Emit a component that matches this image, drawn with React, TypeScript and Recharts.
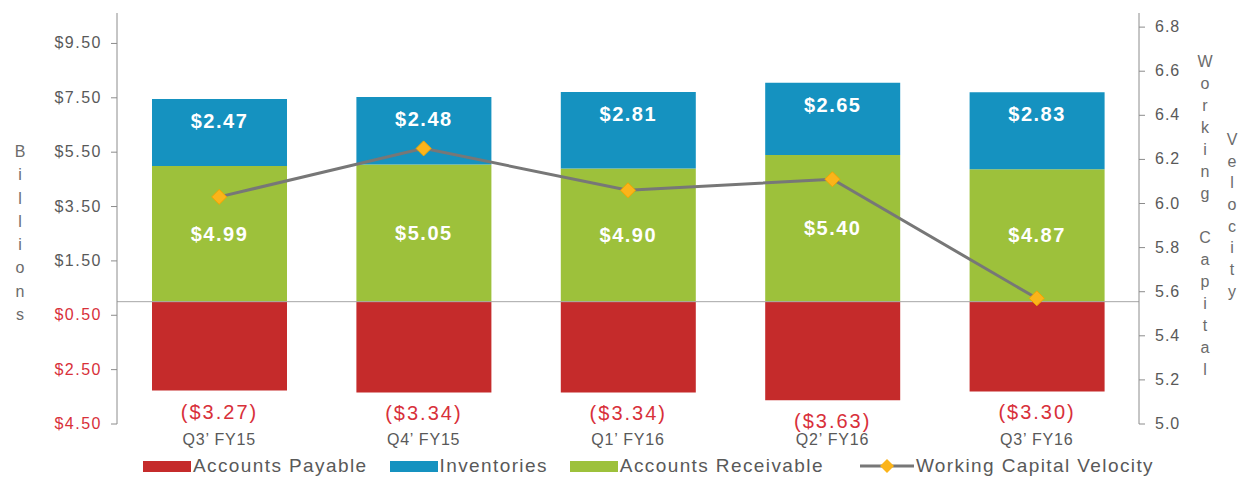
import {
	Bar,
	ComposedChart,
	LabelList,
	Line,
	ReferenceLine,
	XAxis,
	YAxis,
} from "recharts";

const quarters = ["Q3’ FY15", "Q4’ FY15", "Q1’ FY16", "Q2’ FY16", "Q3’ FY16"];
const accountsPayable = [-3.27, -3.34, -3.34, -3.63, -3.3];
const inventories = [2.47, 2.48, 2.81, 2.65, 2.83];
const accountsReceivable = [4.99, 5.05, 4.9, 5.4, 4.87];
const velocity = [6.03, 6.25, 6.06, 6.11, 5.57];

const billionTicks = [-4.5, -2.5, -0.5, 1.5, 3.5, 5.5, 7.5, 9.5];
const velocityTicks = [5.0, 5.2, 5.4, 5.6, 5.8, 6.0, 6.2, 6.4, 6.6, 6.8];

const RED = "#c52b2b";
const BLUE = "#1592c0";
const GREEN = "#9dc13b";
const LINE_GRAY = "#777777";
const DIAMOND = "#fbb41a";
const TEXT_GRAY = "#595959";
const LABEL_RED = "#d8303a";
const AXIS_GRAY = "#8c8c8c";

const data = quarters.map((q, i) => ({
	name: q,
	payable: accountsPayable[i],
	receivable: accountsReceivable[i],
	inventories: inventories[i],
	velocity: velocity[i],
}));

const legendItems = [
	{ name: "Accounts Payable", color: RED, line: false },
	{ name: "Inventories", color: BLUE, line: false },
	{ name: "Accounts Receivable", color: GREEN, line: false },
	{ name: "Working Capital Velocity", color: LINE_GRAY, line: true },
];

const money = (v: number) => `$${Math.abs(v).toFixed(2)}`;

function LeftTick({ x, y, payload }: any) {
	const v = payload.value as number;
	return (
		<text
			x={x}
			y={y}
			dy={5}
			textAnchor="end"
			fontSize={16}
			letterSpacing={1.5}
			fill={v < 0 ? LABEL_RED : TEXT_GRAY}
		>
			{money(v)}
		</text>
	);
}

function RightTick({ x, y, payload }: any) {
	return (
		<text x={x} y={y} dy={5} textAnchor="start" fontSize={16} letterSpacing={1} fill={TEXT_GRAY}>
			{(payload.value as number).toFixed(1)}
		</text>
	);
}

function CategoryTick({ x, y, payload }: any) {
	return (
		<text x={x} y={y} dy={13} textAnchor="middle" fontSize={16} letterSpacing={0.8} fill={TEXT_GRAY}>
			{payload.value}
		</text>
	);
}

function InvLabel({ x, y, width, value }: any) {
	return (
		<text
			x={x + width / 2}
			y={y + 22}
			dominantBaseline="central"
			textAnchor="middle"
			fill="#fff"
			fontWeight="bold"
			fontSize={20}
			letterSpacing={1.5}
		>
			{money(value)}
		</text>
	);
}

function ArLabel({ x, y, width, height, value }: any) {
	return (
		<text
			x={x + width / 2}
			y={y + height / 2}
			dominantBaseline="central"
			textAnchor="middle"
			fill="#fff"
			fontWeight="bold"
			fontSize={20}
			letterSpacing={1.5}
		>
			{money(value)}
		</text>
	);
}

function ApLabel({ x, y, width, height, value }: any) {
	const bottom = Math.max(y, y + height);
	return (
		<text
			x={x + width / 2}
			y={bottom + 21}
			dominantBaseline="central"
			textAnchor="middle"
			fill={LABEL_RED}
			fontSize={20}
			letterSpacing={2}
		>
			{`(${money(value)})`}
		</text>
	);
}

function Diamond({ cx, cy, index }: any) {
	const r = 7.5;
	return (
		<path
			key={`d-${index}`}
			d={`M${cx},${cy - r} L${cx + r},${cy} L${cx},${cy + r} L${cx - r},${cy} Z`}
			fill={DIAMOND}
			stroke="#f0a500"
			strokeWidth={1}
		/>
	);
}

function Stacked({ text, left, top, step }: { text: string; left: number; top: number; step: number }) {
	return (
		<div style={{ position: "absolute", left, top, width: 20, textAlign: "center" }}>
			{text.split("").map((c, i) => (
				<div key={i} style={{ height: step, lineHeight: `${step}px` }}>
					{c === " " ? "\u00a0" : c}
				</div>
			))}
		</div>
	);
}

function ChartLegend() {
	return (
		<div
			style={{
				position: "absolute",
				left: 143,
				top: 455,
				display: "flex",
				alignItems: "center",
				fontSize: 19,
				letterSpacing: 1.4,
				color: TEXT_GRAY,
				whiteSpace: "nowrap",
			}}
		>
			{legendItems.map((item) => (
				<div
					key={item.name}
					style={{
						display: "flex",
						alignItems: "center",
						marginRight: 22,
						marginLeft: item.line ? 14 : 0,
					}}
				>
					{item.line ? (
						<svg width={54} height={16} style={{ marginRight: 2 }}>
							<line x1={0} y1={8} x2={54} y2={8} stroke={LINE_GRAY} strokeWidth={3} />
							<path d="M27,1 L34,8 L27,15 L20,8 Z" fill={DIAMOND} />
						</svg>
					) : (
						<span
							style={{
								display: "inline-block",
								width: 48,
								height: 11,
								background: item.color,
								marginRight: 2,
							}}
						/>
					)}
					<span>{item.name}</span>
				</div>
			))}
		</div>
	);
}

export default function App() {
	return (
		<div
			style={{
				position: "absolute",
				left: 0,
				top: 0,
				width: 1241,
				height: 478,
				background: "#fff",
				fontFamily: "'Liberation Sans', Arial, sans-serif",
				color: TEXT_GRAY,
			}}
		>
			<ComposedChart
				width={1241}
				height={478}
				data={data}
				stackOffset="sign"
				margin={{ top: 13, right: 22, bottom: 0, left: 37 }}
			>
				<XAxis
					dataKey="name"
					axisLine={false}
					tickLine={false}
					height={54}
					interval={0}
					tick={<CategoryTick />}
				/>
				<YAxis
					yAxisId="left"
					width={80}
					domain={[-4.5, 10.62]}
					ticks={billionTicks}
					allowDataOverflow
					stroke={AXIS_GRAY}
					tickSize={6}
					tickMargin={9}
					tick={<LeftTick />}
				/>
				<YAxis
					yAxisId="right"
					orientation="right"
					width={80}
					domain={[5.0, 6.864]}
					ticks={velocityTicks}
					allowDataOverflow
					stroke={AXIS_GRAY}
					tickSize={6}
					tickMargin={10}
					tick={<RightTick />}
				/>
				<Bar yAxisId="left" dataKey="payable" stackId="wc" fill={RED} barSize={135} isAnimationActive={false}>
					<LabelList dataKey="payable" content={<ApLabel />} />
				</Bar>
				<Bar yAxisId="left" dataKey="receivable" stackId="wc" fill={GREEN} barSize={135} isAnimationActive={false}>
					<LabelList dataKey="receivable" content={<ArLabel />} />
				</Bar>
				<Bar yAxisId="left" dataKey="inventories" stackId="wc" fill={BLUE} barSize={135} isAnimationActive={false}>
					<LabelList dataKey="inventories" content={<InvLabel />} />
				</Bar>
				<ReferenceLine yAxisId="left" y={0} stroke="#a6a6a6" strokeWidth={1} />
				<Line
					yAxisId="right"
					dataKey="velocity"
					stroke={LINE_GRAY}
					strokeWidth={3}
					dot={<Diamond />}
					isAnimationActive={false}
				/>
			</ComposedChart>
			<div style={{ fontSize: 16, color: "#6b6b6b" }}>
				<Stacked text="Billions" left={10} top={140} step={23.3} />
				<Stacked text="Working Capital" left={1195} top={51} step={22} />
				<Stacked text="Velocity" left={1222} top={129} step={21.7} />
			</div>
			<ChartLegend />
		</div>
	);
}
